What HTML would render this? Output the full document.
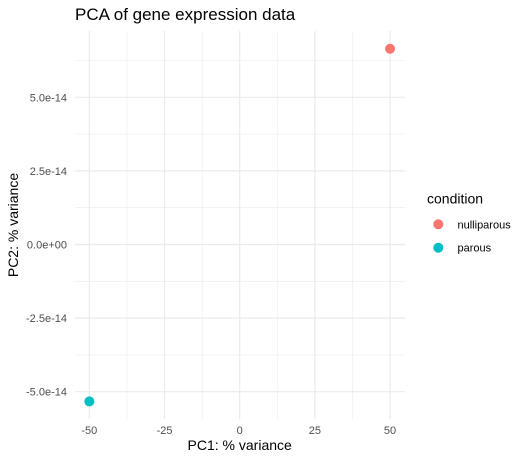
<!DOCTYPE html>
<html><head><meta charset="utf-8"><style>
body{margin:0;background:#fff;}
svg{display:block;font-family:"Liberation Sans",sans-serif;}
</style></head><body>
<svg id="chart" width="529" height="461">
<text x="75" y="20" font-size="17" fill="#000">PCA of gene expression data</text>
<g id="grid"></g>
<g id="points"></g>
<g id="xticks"></g>
<g id="yticks"></g>
<text x="239.7" y="450" font-size="14" text-anchor="middle" fill="#000">PC1: % variance</text>
<text transform="translate(18,225) rotate(-90)" font-size="14" text-anchor="middle" fill="#000">PC2: % variance</text>
<g>
<text x="427" y="203.5" font-size="14" fill="#000">condition</text>
<g id="legend-entries"></g>
</g>
</svg>
<script>
const groups = ["nulliparous", "parous"];
const colors = ["#F8766D", "#00BFC4"];
const pc1 = [50, -50];
const pc2 = [6.65e-14, -5.33e-14];
const xTicks = [-50, -25, 0, 25, 50];
const xTickLabels = ["-50", "-25", "0", "25", "50"];
const yTicks = [-5e-14, -2.5e-14, 0, 2.5e-14, 5e-14];
const yTickLabels = ["-5.0e-14", "-2.5e-14", "0.0e+00", "2.5e-14", "5.0e-14"];

const NS = "http://www.w3.org/2000/svg";
const L = 75, R = 405, T = 31, B = 419;
const xs = v => 239.7 + v * 3.007;
const ys = v => 244.5 - v * 29.44e14;
function mk(tag, attrs, parent){const e=document.createElementNS(NS,tag);for(const k in attrs)e.setAttribute(k,attrs[k]);parent.appendChild(e);return e;}
const grid=document.getElementById('grid');
for(let i=0;i<xTicks.length-1;i++){
  const v=(xTicks[i]+xTicks[i+1])/2;
  const l=mk('line',{x1:xs(v),x2:xs(v),y1:T,y2:B,stroke:'#ebebeb','stroke-width':0.6},grid);
  
  
}
for(let i=0;i<yTicks.length-1;i++){
  const v=(yTicks[i]+yTicks[i+1])/2;
  const l=mk('line',{x1:L,x2:R,y1:ys(v),y2:ys(v),stroke:'#ebebeb','stroke-width':0.6},grid);
  
  
}
[yTicks[yTicks.length-1]+1.25e-14,yTicks[0]-1.25e-14].forEach(v=>{const y=ys(v);if(y>T&&y<B){const l=mk('line',{x1:L,x2:R,y1:y,y2:y,stroke:'#ebebeb','stroke-width':0.6},grid);}});
const xt=document.getElementById('xticks');
xTicks.forEach((v,i)=>{
  const l=mk('line',{x1:xs(v),x2:xs(v),y1:T,y2:B,stroke:'#ebebeb','stroke-width':1.2},grid);
  
  
  const t=mk('text',{x:xs(v),y:434,'font-size':11,fill:'#4d4d4d','text-anchor':'middle'},xt);
  t.textContent=xTickLabels[i];
  
  
});
const yt=document.getElementById('yticks');
yTicks.forEach((v,i)=>{
  const l=mk('line',{x1:L,x2:R,y1:ys(v),y2:ys(v),stroke:'#ebebeb','stroke-width':1.2},grid);
  
  
  const t=mk('text',{x:67,y:ys(v)+4,'font-size':11,fill:'#4d4d4d','text-anchor':'end'},yt);
  t.textContent=yTickLabels[i];
  
  
});
const pts=document.getElementById('points');
pc1.forEach((v,i)=>{
  const c=mk('circle',{cx:xs(v),cy:ys(pc2[i]),r:5,fill:colors[i]},pts);
  
  
});
const lg=document.getElementById('legend-entries');
groups.forEach((g,i)=>{
  const y=224.3+i*23.4;
  const c=mk('circle',{cx:438.3,cy:y,r:5,fill:colors[i]},lg);
  
  
  const t=mk('text',{x:457.5,y:y+4,'font-size':11,fill:'#000'},lg);
  t.textContent=g;
  
  
});
</script>
</body></html>
